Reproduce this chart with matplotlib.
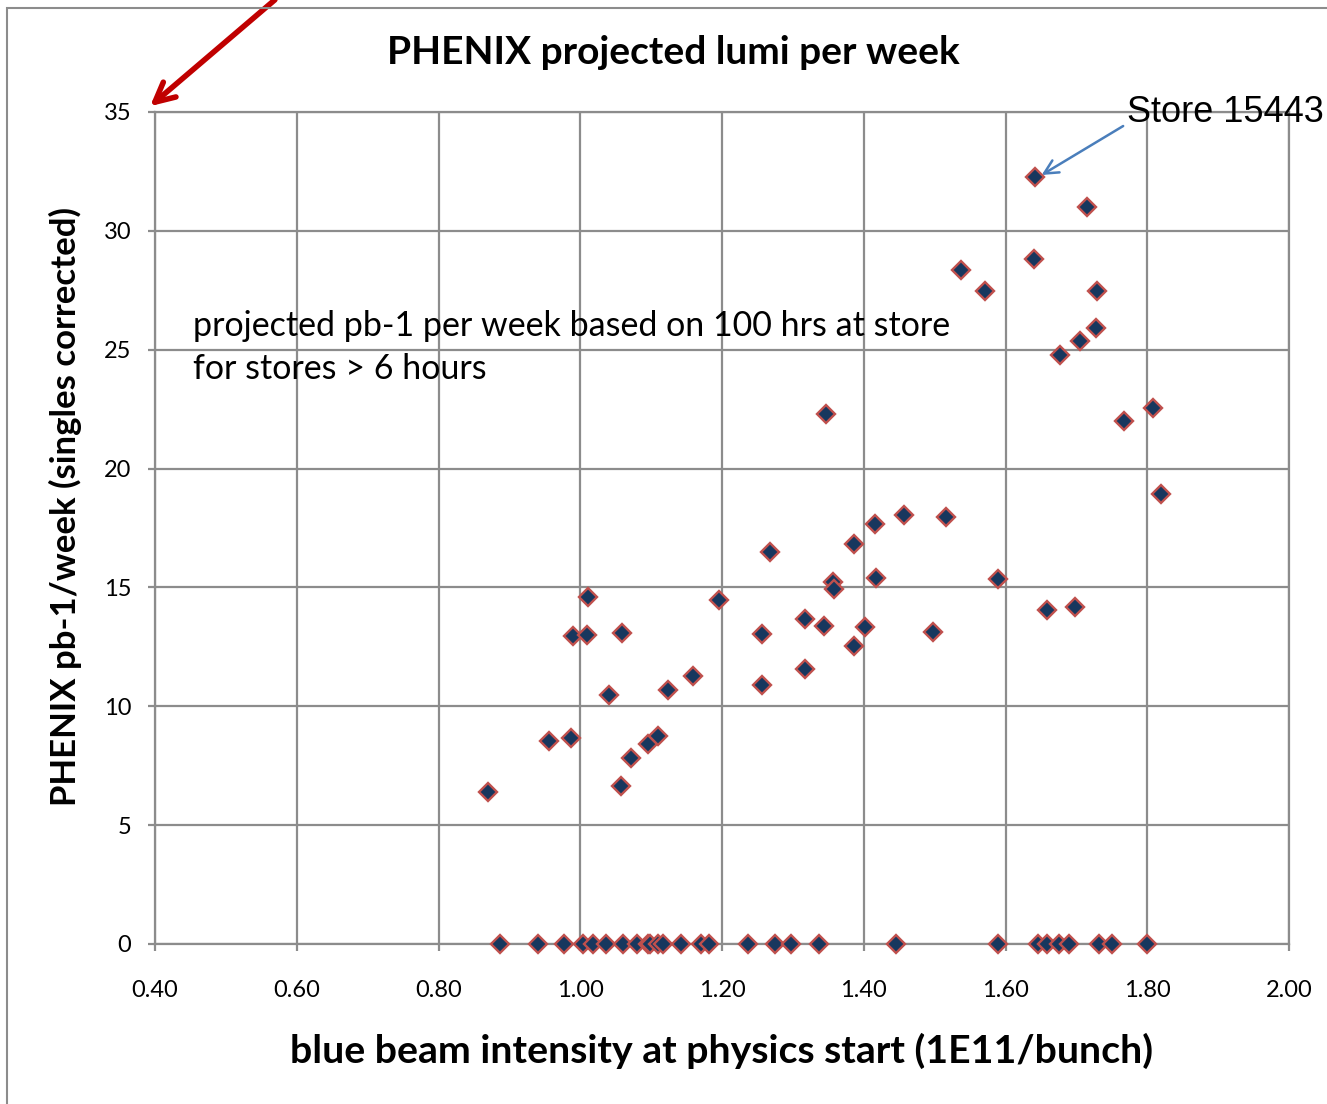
import matplotlib
matplotlib.use('Agg')
import matplotlib.pyplot as plt
from matplotlib.patches import Rectangle

# stores with nonzero projected lumi
x_lumi = [0.870, 0.956, 0.987, 0.990, 1.010, 1.011, 1.040, 1.058, 1.059, 1.072,
          1.096, 1.110, 1.124, 1.159, 1.196, 1.256, 1.256, 1.268, 1.317, 1.317,
          1.344, 1.347, 1.357, 1.358, 1.386, 1.386, 1.402, 1.416, 1.417, 1.457,
          1.498, 1.516, 1.537, 1.571, 1.589, 1.640, 1.642, 1.659, 1.677, 1.698,
          1.705, 1.715, 1.728, 1.729, 1.767, 1.808, 1.819]
y_lumi = [6.39, 8.54, 8.67, 12.96, 13.00, 14.60, 10.48, 6.65, 13.08, 7.82,
          8.41, 8.75, 10.69, 11.27, 14.47, 13.04, 10.90, 16.49, 13.67, 11.57,
          13.38, 22.30, 15.23, 14.93, 12.54, 16.83, 13.34, 17.67, 15.40, 18.05,
          13.13, 17.96, 28.36, 27.47, 15.36, 28.82, 32.27, 14.05, 24.78, 14.18,
          25.37, 31.00, 25.92, 27.47, 22.00, 22.55, 18.93]

# short stores, plotted at zero
x_zero = [0.887, 0.940, 0.977, 1.004, 1.018, 1.037, 1.060, 1.080, 1.095, 1.098,
          1.109, 1.117, 1.142, 1.171, 1.182, 1.237, 1.275, 1.297, 1.337, 1.445,
          1.589, 1.646, 1.659, 1.675, 1.690, 1.732, 1.750, 1.800]
y_zero = [0.0] * len(x_zero)

x_ticks = [0.40, 0.60, 0.80, 1.00, 1.20, 1.40, 1.60, 1.80, 2.00]
y_ticks = [0, 5, 10, 15, 20, 25, 30, 35]

W, H = 1327, 1104
grid_c = '#8c8c8c'
font = 'Lato'

fig = plt.figure(figsize=(W / 100, H / 100), dpi=100)
ax = fig.add_axes([155 / W, 1 - 944 / H, (1289 - 155) / W, (944 - 112) / H])

for xs, ys in ((x_lumi, y_lumi), (x_zero, y_zero)):
    ax.plot(xs, ys, linestyle='none', marker='D', ms=9.5, mfc='#17375e',
            mec='#c0504d', mew=1.7, clip_on=False, zorder=5)

ax.set_xlim(0.4, 2.0)
ax.set_ylim(0, 35)
ax.set_xticks(x_ticks)
ax.set_xticklabels(['%.2f' % v for v in x_ticks])
ax.set_yticks(y_ticks)
ax.grid(True, color=grid_c, lw=1.6)
ax.set_axisbelow(True)
for s in ax.spines.values():
    s.set_color(grid_c)
    s.set_linewidth(1.6)
ax.tick_params(axis='both', color=grid_c, width=1.6, length=5, labelsize=17)
ax.tick_params(axis='x', pad=21)
ax.tick_params(axis='y', pad=12)
for lab in ax.get_xticklabels() + ax.get_yticklabels():
    lab.set_family(font)

ax.set_xlabel('blue beam intensity at physics start (1E11/bunch)',
              family=font, fontsize=28.3, fontweight='bold', labelpad=23)
fig.text(65 / W, 1 - 507 / H, 'PHENIX pb-1/week (singles corrected)',
         family=font, fontsize=25, fontweight='bold', rotation=90,
         ha='center', va='center')
fig.text(673 / W, 1 - 52 / H, 'PHENIX projected lumi per week', family=font,
         fontsize=28, fontweight='bold', ha='center', va='center')

ax.text(0.453, 25.1, 'projected pb-1 per week based on 100 hrs at store\nfor stores > 6 hours',
        family=font, fontsize=24.5, ha='left', va='center', linespacing=1.42)

ax.annotate('', xy=(1.651, 32.35), xytext=(1.766, 34.41),
            arrowprops=dict(arrowstyle='->', color='#4a7ebb', lw=1.8,
                            mutation_scale=25, shrinkA=0, shrinkB=0),
            annotation_clip=False)
ax.text(1.772, 35.0, 'Store 15443', family='Liberation Sans', fontsize=26,
        ha='left', va='center', clip_on=False, zorder=6)

# red arrow pointing at the top of the y axis
fig.add_artist(plt.matplotlib.patches.FancyArrowPatch(
    (277 / W, 1 + 2 / H), (148 / W, 1 - 108 / H), transform=fig.transFigure,
    arrowstyle='->', mutation_scale=35, color='#c00000', lw=4))

# chart area border
fig.add_artist(Rectangle((7 / W, -0.1), 1.2, 1.1 - 8 / H, transform=fig.transFigure,
                         fill=False, edgecolor='#8c8c8c', lw=1.5))

fig.savefig('out.png', dpi=100)
